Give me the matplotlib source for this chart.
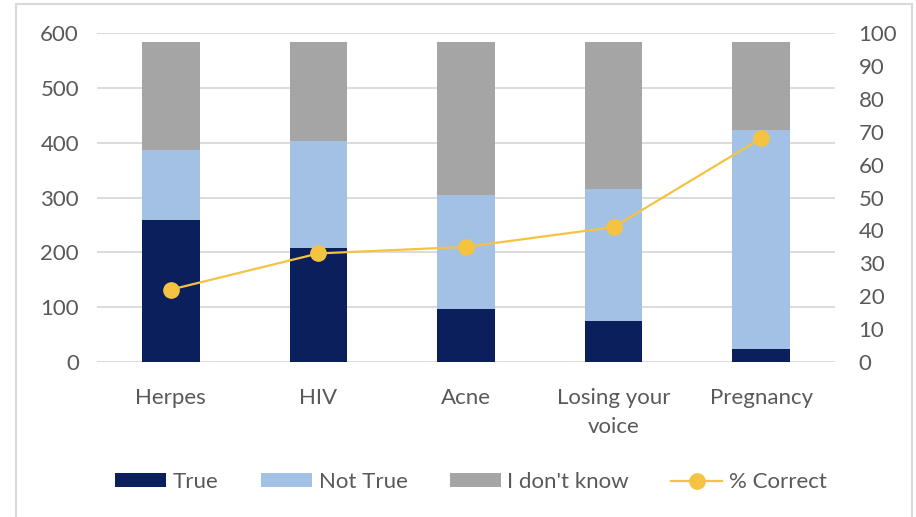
import matplotlib
matplotlib.use("Agg")
import matplotlib.pyplot as plt
from matplotlib.patches import Rectangle
import numpy as np

plt.rcParams["font.family"] = ["Lato", "DejaVu Sans"]

categories = ["Herpes", "HIV", "Acne", "Losing your\nvoice", "Pregnancy"]
true_counts = [259, 208, 97, 74, 24]
not_true_counts = [128, 195, 208, 242, 400]
dont_know_counts = [197, 181, 279, 268, 160]
pct_correct = [22, 33, 35, 41, 68]

navy = "#0b1f5d"
light_blue = "#a3c1e5"
grey = "#a5a5a5"
gold = "#f5c342"
text_grey = "#595959"
fs = 16

fig = plt.figure(figsize=(9.16, 5.17), dpi=100)
ax = fig.add_axes([97 / 916, 1 - 362 / 517, (835 - 97) / 916, (362 - 33) / 517])

# thin frame round the whole chart
fig.patches.append(Rectangle((16 / 916, -0.1), (912 - 16) / 916, 1.1 - 4 / 517,
                             transform=fig.transFigure, fill=False,
                             edgecolor="#d9d9d9", linewidth=1.5))

x = np.arange(len(categories))
w = 0.39
true_arr = np.array(true_counts)
not_true_arr = np.array(not_true_counts)
ax.bar(x, true_arr, w, color=navy, label="True", zorder=2)
ax.bar(x, not_true_arr, w, bottom=true_arr, color=light_blue, label="Not True", zorder=2)
ax.bar(x, dont_know_counts, w, bottom=true_arr + not_true_arr, color=grey,
       label="I don't know", zorder=2)

ax.set_ylim(0, 600)
ax.set_yticks(range(0, 601, 100))
ax.set_xlim(-0.5, len(categories) - 0.5)
ax.set_xticks(x)
ax.set_xticklabels(categories, linespacing=1.55)
ax.grid(axis="y", color="#d9d9d9", linewidth=1.3, zorder=0)
for s in ax.spines.values():
    s.set_visible(False)
ax.tick_params(length=0, labelsize=fs, colors=text_grey)
ax.tick_params(axis="y", pad=13)
ax.tick_params(axis="x", pad=19)

ax2 = ax.twinx()
ax2.plot(x, pct_correct, color=gold, linewidth=1.6, marker="o", markersize=11,
         label="% Correct", zorder=3)
ax2.set_ylim(0, 100)
ax2.set_yticks(range(0, 101, 10))
for s in ax2.spines.values():
    s.set_visible(False)
ax2.tick_params(length=0, labelsize=fs, colors=text_grey, pad=17)

h1, l1 = ax.get_legend_handles_labels()
h2, l2 = ax2.get_legend_handles_labels()
fig.legend(h1 + h2, l1 + l2, loc="center", bbox_to_anchor=(471 / 916, 1 - 482 / 517),
           ncol=4, frameon=False, fontsize=fs, labelcolor=text_grey,
           handlelength=2.3, handleheight=0.55, handletextpad=0.3, columnspacing=1.9)

fig.savefig("out.png", dpi=100)
